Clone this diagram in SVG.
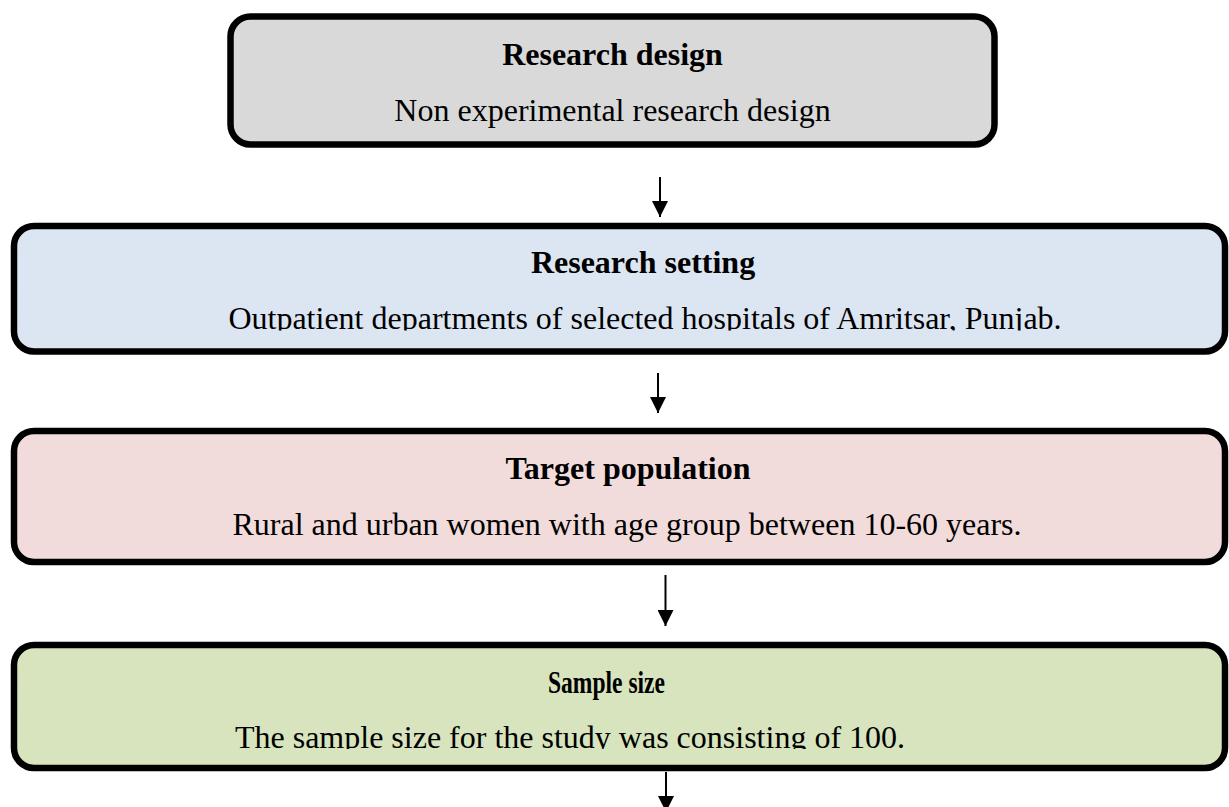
<svg xmlns="http://www.w3.org/2000/svg" width="1229" height="807" viewBox="0 0 1229 807">
<style>
.box{stroke:#000;stroke-width:6.5}
.t{font-family:"Liberation Serif","Times New Roman",serif;font-size:32px;fill:#000;text-anchor:middle}
.b{font-weight:bold}
.conn{stroke:#000;stroke-width:2;fill:none}
</style>
<defs>
<marker id="ah" markerUnits="userSpaceOnUse" markerWidth="16" markerHeight="16" refX="16" refY="8" orient="auto">
<path d="M0,0 L16,8 L0,16 z" fill="#000"/>
</marker>
<clipPath id="c2"><rect x="0" y="226" width="1229" height="104.5"/></clipPath>
<clipPath id="c4"><rect x="0" y="645" width="1229" height="104"/></clipPath>
</defs>
<rect width="1229" height="807" fill="#fff"/>
<g id="connectors">
<line class="conn" x1="660" y1="177" x2="660" y2="217" marker-end="url(#ah)"/>
<line class="conn" x1="658" y1="373" x2="658" y2="413" marker-end="url(#ah)"/>
<line class="conn" x1="665.5" y1="575" x2="665.5" y2="626" marker-end="url(#ah)"/>
<line class="conn" x1="666" y1="772" x2="666" y2="812" marker-end="url(#ah)"/>
</g>
<g id="research-design">
<rect class="box" x="230.5" y="16.5" width="764" height="128" rx="20" fill="#d9d9d9"/>
<text class="t b" x="612.5" y="65">Research design</text>
<text class="t" x="612.5" y="121">Non experimental research design</text>
</g>
<g id="research-setting">
<rect class="box" x="14" y="226" width="1211" height="125.5" rx="20" fill="#dce6f2"/>
<text class="t b" x="643" y="273">Research setting</text>
<text class="t" x="645" y="329" clip-path="url(#c2)">Outpatient departments of selected hospitals of Amritsar, Punjab.</text>
</g>
<g id="target-population">
<rect class="box" x="14" y="431" width="1211" height="131" rx="20" fill="#f2dcdb"/>
<text class="t b" x="628" y="479">Target population</text>
<text class="t" x="627" y="535">Rural and urban women with age group between 10-60 years.</text>
</g>
<g id="sample-size">
<rect class="box" x="14" y="645" width="1211" height="123" rx="20" fill="#d7e4bd"/>
<text class="t b" x="606.5" y="693" textLength="117" lengthAdjust="spacingAndGlyphs">Sample size</text>
<text class="t" x="570" y="748" clip-path="url(#c4)">The sample size for the study was consisting of 100.</text>
</g>
</svg>
